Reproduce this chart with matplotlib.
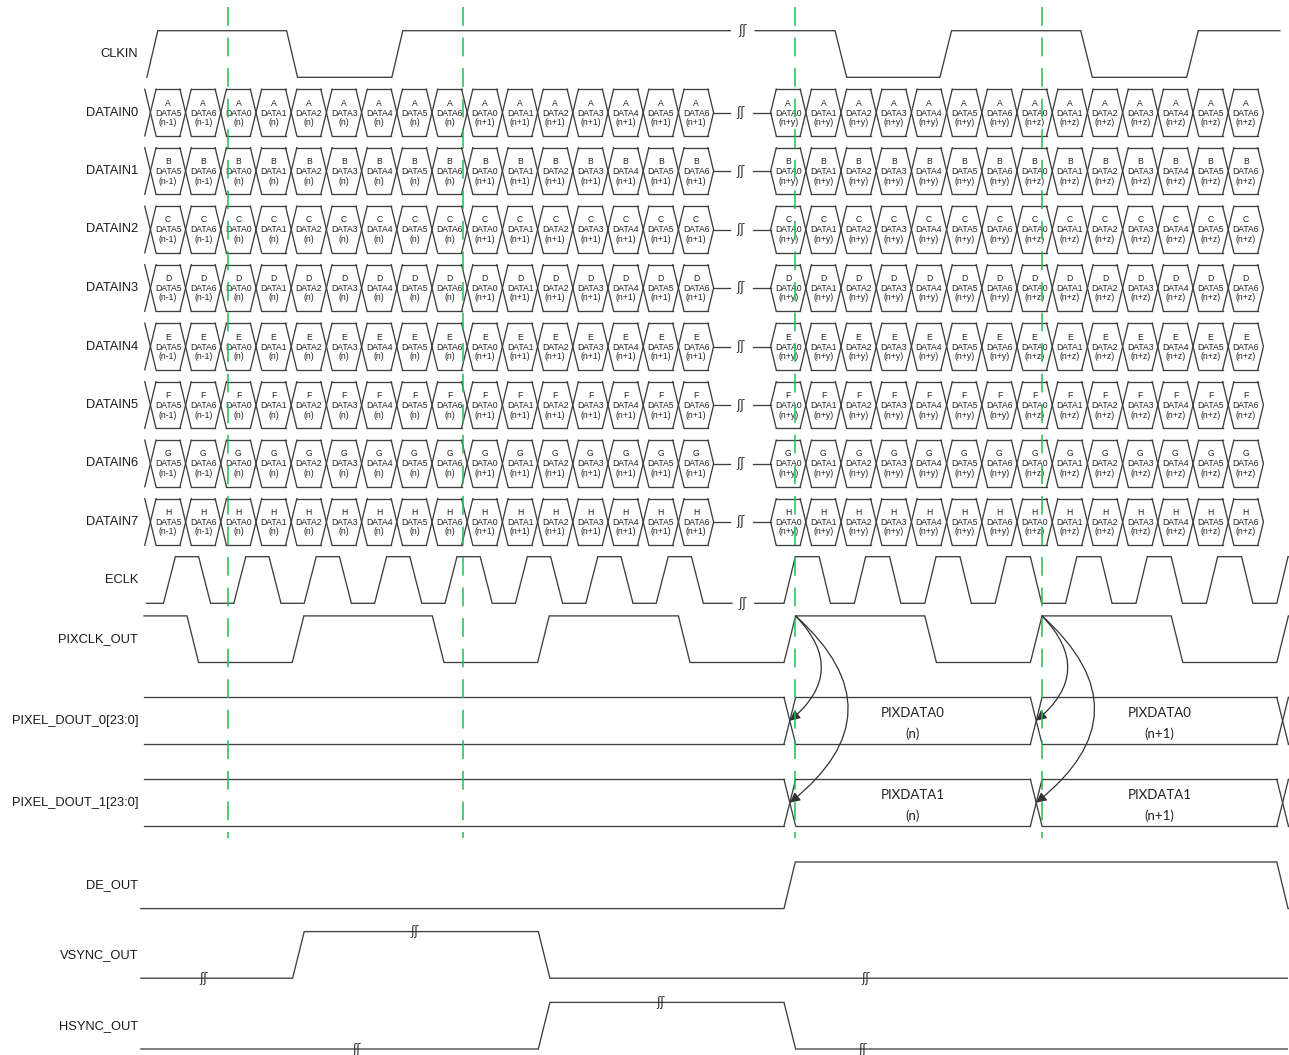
import matplotlib
matplotlib.use("Agg")
import matplotlib.pyplot as plt
from matplotlib.patches import FancyArrowPatch

plt.rcParams['lines.scale_dashes'] = False

# ---------------- data (time measured in bit-slot units) ----------------
SIGNALS = ["CLKIN", "DATAIN0", "DATAIN1", "DATAIN2", "DATAIN3", "DATAIN4",
           "DATAIN5", "DATAIN6", "DATAIN7", "ECLK", "PIXCLK_OUT",
           "PIXEL_DOUT_0[23:0]", "PIXEL_DOUT_1[23:0]", "DE_OUT",
           "VSYNC_OUT", "HSYNC_OUT"]
LANES = ["A", "B", "C", "D", "E", "F", "G", "H"]

LEFT_WORDS = ["DATA5", "DATA6", "DATA0", "DATA1", "DATA2", "DATA3", "DATA4",
              "DATA5", "DATA6", "DATA0", "DATA1", "DATA2", "DATA3", "DATA4",
              "DATA5", "DATA6"]
LEFT_INDEX = ["(n-1)", "(n-1)", "(n)", "(n)", "(n)", "(n)", "(n)", "(n)",
              "(n)", "(n+1)", "(n+1)", "(n+1)", "(n+1)", "(n+1)", "(n+1)",
              "(n+1)"]
RIGHT_WORDS = ["DATA0", "DATA1", "DATA2", "DATA3", "DATA4", "DATA5", "DATA6",
               "DATA0", "DATA1", "DATA2", "DATA3", "DATA4", "DATA5", "DATA6"]
RIGHT_INDEX = ["(n+y)", "(n+y)", "(n+y)", "(n+y)", "(n+y)", "(n+y)", "(n+y)",
               "(n+z)", "(n+z)", "(n+z)", "(n+z)", "(n+z)", "(n+z)", "(n+z)"]
LEFT_START = 0.0
RIGHT_START = 17.62

# clock / control edge times
CLKIN_LEFT_EDGES = [-0.10, 3.87, 6.86]
CLKIN_RIGHT_EDGES = [19.45, 22.43, 26.43, 29.44]
ECLK_LEFT_EDGES = [0.37, 1.37, 2.37, 3.37, 4.37, 5.37, 6.37, 7.37, 8.37,
                   9.37, 10.37, 11.37, 12.37, 13.37, 14.37, 15.37]
ECLK_RIGHT_EDGES = [18, 19, 20, 21, 22, 23, 24, 25, 26, 27, 28, 29, 30, 31, 32]
PIXCLK_EDGES = [1.04, 4.03, 8.01, 11.0, 15.0, 18.0, 22.0, 25.0, 29.0, 32.0]
DE_EDGES = [18.0, 32.0]
VSYNC_EDGES = [4.04, 11.02]
HSYNC_EDGES = [11.02, 18.0]
BUS_CROSSINGS = [18.0, 25.0, 32.0]
PIX0_NAMES = ["PIXDATA0", "PIXDATA0"]
PIX1_NAMES = ["PIXDATA1", "PIXDATA1"]
PIX_INDEX = ["(n)", "(n+1)"]
MARKER_TIMES = [2.2, 8.87, 18.31, 25.32]
ARROW_FROM = [18.33, 25.33]
VSYNC_BREAKS = [(1.52, 0), (7.49, 1), (20.33, 0)]
HSYNC_BREAKS = [(5.87, 0), (14.48, 1), (20.22, 0)]
BREAK_T = 16.77

# ---------------- layout ----------------
W, H, DPI = 1289, 1055, 100
PX = 35.2                 # pixels per bit slot
T0PX = 150.4              # pixel x of t = 0
ROW_Y = {"CLKIN": 54.0, "ECLK": 580.0, "PIXCLK_OUT": 639.2,
         "PIXEL_DOUT_0[23:0]": 720.7, "PIXEL_DOUT_1[23:0]": 802.7,
         "DE_OUT": 885.3, "VSYNC_OUT": 954.9, "HSYNC_OUT": 1025.7}
for i in range(8):
    ROW_Y["DATAIN%d" % i] = 112.5 + 58.5 * i
HH = 23.3
LC = "#3f3f3f"
LW = 0.95
GREEN = "#1fbf4f"

fig = plt.figure(figsize=(W / DPI, H / DPI), dpi=DPI)
ax = fig.add_axes([0, 0, 1, 1])
ax.set_xlim(-T0PX / PX, (W - T0PX) / PX)
ax.set_ylim(H, 0)
ax.axis("off")

S = 0.16   # hexagon slant


def ylev(name, lvl):
    return ROW_Y[name] - HH if lvl else ROW_Y[name] + HH


def wave(name, edges, level0, t0, t1, slew):
    xs, ys, lvl = [t0], [level0], level0
    for e in edges:
        if e >= t1:
            break
        xs += [e, min(e + slew, t1)]
        ys += [lvl, 1 - lvl]
        lvl = 1 - lvl
    xs.append(t1)
    ys.append(lvl)
    ax.plot(xs, [ylev(name, v) for v in ys], color=LC, lw=LW,
            solid_joinstyle="miter")


def brk(t, y):
    ax.text(t, y, "ʃʃ", ha="center", va="center", fontsize=9,
            color="#333333", family="DejaVu Sans")


def hex_row(name, lane, start, words, idx, left_x):
    yc = ROW_Y[name]
    top, bot = yc - HH, yc + HH
    n = len(words)
    for i in range(n):
        a, b = start + i, start + i + 1
        ax.plot([a + S, b - S], [top, top], color=LC, lw=LW)
        ax.plot([a + S, b - S], [bot, bot], color=LC, lw=LW)
        c = a + 0.5
        ax.text(c, yc - 9.5, lane, ha="center", va="center", fontsize=6.2,
                color="#222222", family="Liberation Sans")
        ax.text(c, yc + 0.5, words[i], ha="center", va="center", fontsize=6.2,
                color="#222222", family="Liberation Sans")
        ax.text(c, yc + 10, idx[i], ha="center", va="center", fontsize=6.2,
                color="#222222", family="Liberation Sans")
    for i in range(n + 1):
        t = start + i
        if 0 < i < n or (i == 0 and left_x):
            ax.plot([t - S, t + S], [top, bot], color=LC, lw=LW)
            ax.plot([t - S, t + S], [bot, top], color=LC, lw=LW)
        elif i == 0:
            ax.plot([t + S, t, t + S], [top, yc, bot], color=LC, lw=LW)
        else:
            ax.plot([t - S, t, t - S], [top, yc, bot], color=LC, lw=LW)


def bus(name, t0, t1, crossings, w, names, idx):
    yc = ROW_Y[name]
    top, bot = yc - HH, yc + HH
    pts = [t0] + crossings
    for k in range(len(pts)):
        a = pts[k] if k == 0 else pts[k] + w
        b = crossings[k] if k < len(crossings) else t1
        if b > a:
            ax.plot([a, b], [top, top], color=LC, lw=LW)
            ax.plot([a, b], [bot, bot], color=LC, lw=LW)
    for c in crossings:
        ax.plot([c, c + w], [top, bot], color=LC, lw=LW)
        ax.plot([c, c + w], [bot, top], color=LC, lw=LW)
    for k in range(len(names)):
        mid = (crossings[k] + w + crossings[k + 1]) / 2
        ax.text(mid, yc - 7.5, names[k], ha="center", va="center",
                fontsize=9.5, color="#222222", family="Lato")
        ax.text(mid, yc + 13.5, idx[k], ha="center", va="center",
                fontsize=9.5, color="#222222", family="Lato")


# labels
for name in SIGNALS:
    ax.text(-0.35, ROW_Y[name], name, ha="right", va="center", fontsize=9.3,
            color="#1a1a1a", family="Liberation Sans")

# CLKIN
wave("CLKIN", CLKIN_LEFT_EDGES, 0, -0.10, 16.47, 0.31)
wave("CLKIN", CLKIN_RIGHT_EDGES, 1, 17.18, 32.09, 0.33)
brk(BREAK_T + 0.06, ylev("CLKIN", 1))

# DATAIN lanes
for i, lane in enumerate(LANES):
    name = "DATAIN%d" % i
    yc = ROW_Y[name]
    hex_row(name, lane, LEFT_START, LEFT_WORDS, LEFT_INDEX, True)
    hex_row(name, lane, RIGHT_START, RIGHT_WORDS, RIGHT_INDEX, False)
    ax.plot([LEFT_START + len(LEFT_WORDS), 16.47], [yc, yc], color=LC, lw=LW)
    ax.plot([17.12, RIGHT_START], [yc, yc], color=LC, lw=LW)
    brk(BREAK_T, yc)

# ECLK
wave("ECLK", ECLK_LEFT_EDGES, 0, -0.11, 16.52, 0.34)
wave("ECLK", ECLK_RIGHT_EDGES, 0, 17.17, 32.4, 0.32)
brk(BREAK_T + 0.06, ylev("ECLK", 0))

# PIXCLK
wave("PIXCLK_OUT", PIXCLK_EDGES, 1, -0.18, 32.4, 0.33)

# pixel data buses
bus("PIXEL_DOUT_0[23:0]", -0.18, 32.4, BUS_CROSSINGS, 0.33, PIX0_NAMES, PIX_INDEX)
bus("PIXEL_DOUT_1[23:0]", -0.18, 32.4, BUS_CROSSINGS, 0.33, PIX1_NAMES, PIX_INDEX)

# DE / VSYNC / HSYNC
wave("DE_OUT", DE_EDGES, 0, -0.27, 32.4, 0.32)
wave("VSYNC_OUT", VSYNC_EDGES, 0, -0.27, 32.3, 0.33)
wave("HSYNC_OUT", HSYNC_EDGES, 0, -0.27, 32.3, 0.33)
for t, lv in VSYNC_BREAKS:
    brk(t, ylev("VSYNC_OUT", lv))
for t, lv in HSYNC_BREAKS:
    brk(t, ylev("HSYNC_OUT", lv))

# arrows from PIXCLK rising edge to output data transitions
for ts, c in zip(ARROW_FROM, BUS_CROSSINGS[:2]):
    p0 = (ts, ylev("PIXCLK_OUT", 1))
    for name, rad in (("PIXEL_DOUT_0[23:0]", -0.54), ("PIXEL_DOUT_1[23:0]", -0.59)):
        arr = FancyArrowPatch(p0, (c + 0.165, ROW_Y[name]),
                              connectionstyle="arc3,rad=%f" % rad,
                              arrowstyle="-|>", mutation_scale=15,
                              color="#333333", lw=0.9,
                              shrinkA=0, shrinkB=0, zorder=4)
        ax.add_patch(arr)

# green dashed reference lines
for t in MARKER_TIMES:
    ax.plot([t, t], [7, 838], color=GREEN, lw=1.1, dashes=(13.5, 8.5),
            zorder=5)

fig.savefig("out.png", dpi=DPI)
